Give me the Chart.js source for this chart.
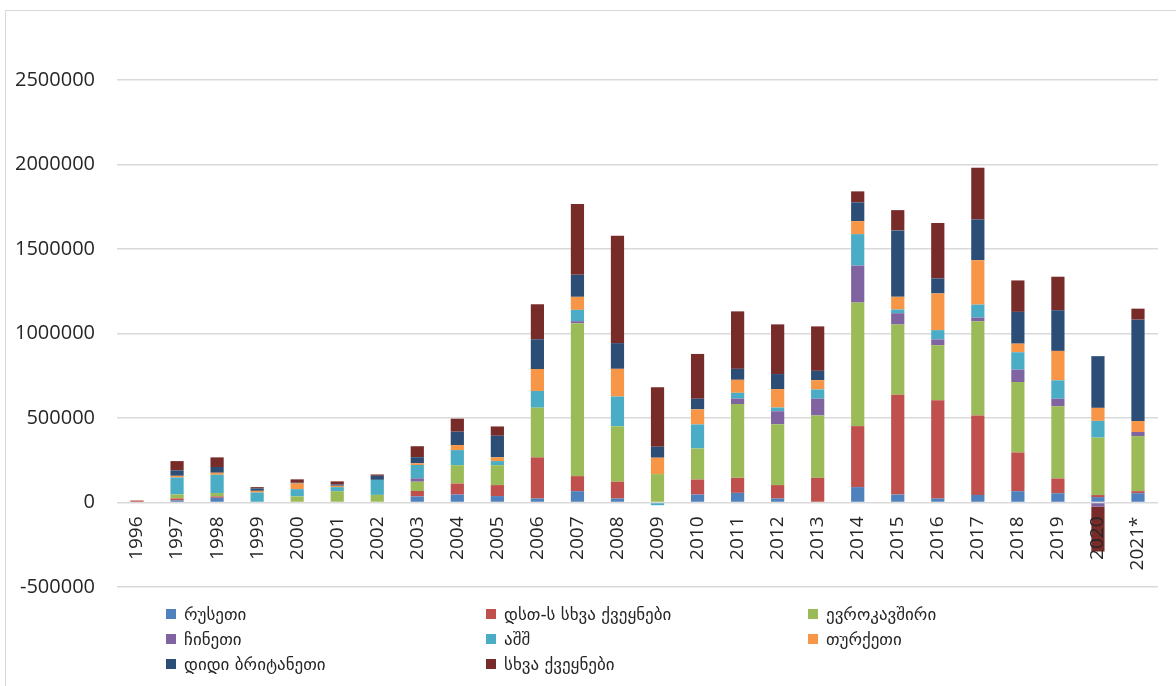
<!DOCTYPE html>
<html lang="ka">
<head>
<meta charset="utf-8">
<title>FDI by country</title>
<script src="https://cdn.jsdelivr.net/npm/chart.js@4.4.1/dist/chart.umd.min.js"></script>
<style>
  html, body { margin: 0; padding: 0; background: #fff; }
  .chart-wrap { position: relative; width: 1176px; height: 686px; overflow: hidden; }
  .frame { position: absolute; left: 5px; top: 10px; width: 1200px; height: 700px; border: 1px solid #d9d9d9; }
  #chart { position: absolute; left: 0; top: 0; }
  .legend {
    position: absolute; left: 166px; top: 601px;
    display: grid; grid-template-columns: 320px 322px auto; grid-auto-rows: 25px;
    font: 17px "DejaVu Sans", sans-serif; color: #262626;
  }
  .legend .item { display: flex; align-items: center; white-space: nowrap; }
  .legend .box { width: 10px; height: 10px; margin-right: 8px; flex: none; }
</style>
</head>
<body>
<div class="chart-wrap">
  <div class="frame"></div>
  <canvas id="chart" width="1176" height="686"></canvas>
  <div class="legend" id="legend"></div>
</div>
<script>
const years = ["1996", "1997", "1998", "1999", "2000", "2001", "2002", "2003", "2004", "2005",
  "2006", "2007", "2008", "2009", "2010", "2011", "2012", "2013", "2014", "2015",
  "2016", "2017", "2018", "2019", "2020", "2021*"];

const russia = [0, 12000, 28000, 0, 0, 0, 0, 36000, 47000, 38000,
  24000, 67000, 24000, 0, 47000, 57000, 24000, 0, 91000, 47000,
  24000, 45000, 67000, 55000, 32000, 55000];
const cisOther = [12000, 12000, 8000, 0, 0, 0, 0, 32000, 65000, 65000,
  243000, 89000, 99000, 0, 89000, 89000, 79000, 146000, 361000, 591000,
  581000, 470000, 229000, 87000, 12000, 12000];
const eu = [0, 24000, 20000, 0, 36000, 67000, 45000, 55000, 109000, 118000,
  294000, 905000, 328000, 168000, 184000, 437000, 360000, 369000, 731000, 415000,
  326000, 557000, 417000, 427000, 340000, 326000];
const china = [0, 0, 0, 0, 0, 0, 0, 20000, 0, 0,
  0, 12000, 0, 0, 0, 32000, 77000, 99000, 219000, 67000,
  34000, 22000, 73000, 45000, -25000, 24000];
const usa = [0, 100000, 108000, 59000, 43000, 24000, 89000, 79000, 89000, 24000,
  99000, 67000, 176000, -16000, 142000, 34000, 22000, 55000, 186000, 22000,
  55000, 77000, 103000, 109000, 99000, 0];
const turkey = [0, 10000, 12000, 10000, 34000, 8000, 0, 10000, 30000, 22000,
  130000, 77000, 164000, 97000, 89000, 77000, 109000, 55000, 77000, 75000,
  217000, 263000, 51000, 174000, 77000, 65000];
const uk = [0, 32000, 34000, 14000, 4000, 8000, 24000, 36000, 79000, 128000,
  176000, 130000, 152000, 65000, 63000, 65000, 89000, 55000, 111000, 393000,
  89000, 241000, 188000, 241000, 306000, 600000];
const others = [0, 55000, 57000, 8000, 20000, 18000, 8000, 65000, 77000, 55000,
  207000, 419000, 636000, 352000, 265000, 340000, 294000, 263000, 65000, 120000,
  328000, 306000, 186000, 198000, -265000, 65000];

const seriesNames = ["რუსეთი", "დსთ-ს სხვა ქვეყნები", "ევროკავშირი", "ჩინეთი",
  "აშშ", "თურქეთი", "დიდი ბრიტანეთი", "სხვა ქვეყნები"];
const seriesValues = [russia, cisOther, eu, china, usa, turkey, uk, others];
const seriesColors = ["#4f81bd", "#c0504d", "#9bbb59", "#8064a2",
  "#4bacc6", "#f79646", "#2c4d75", "#772c2a"];

const yTicks = [-500000, 0, 500000, 1000000, 1500000, 2000000, 2500000];

const datasets = seriesNames.map((name, i) => ({
  label: name,
  data: seriesValues[i],
  backgroundColor: seriesColors[i],
  borderWidth: 0,
  categoryPercentage: 1,
  barPercentage: 0.33,
}));

const chart = new Chart(document.getElementById("chart"), {
  type: "bar",
  data: { labels: years, datasets },
  options: {
    responsive: false,
    animation: false,
    layout: { padding: { top: 80, right: 18, bottom: 99, left: 0 } },
    plugins: {
      legend: { display: false },
      tooltip: { enabled: false },
    },
    scales: {
      x: {
        stacked: true,
        position: { y: 0 },
        grid: { display: false, drawTicks: false },
        border: { display: false },
        ticks: {
          minRotation: 90,
          maxRotation: 90,
          padding: 14,
          color: "#262626",
          font: { family: "Open Sans", size: 19 },
          z: 1,
        },
        afterFit(scale) {
          scale.height = 0;
        },
      },
      y: {
        stacked: true,
        min: yTicks[0],
        max: yTicks[yTicks.length - 1],
        afterBuildTicks(scale) {
          scale.ticks = yTicks.map((v) => ({ value: v }));
        },
        grid: { color: "#d9d9d9", lineWidth: 1.5, drawTicks: false },
        border: { display: false },
        ticks: {
          padding: 22,
          color: "#262626",
          font: { family: "Open Sans", size: 20 },
          callback: (v) => String(v),
        },
        afterFit(scale) {
          scale.width = 117;
        },
      },
    },
  },
});

// legend in three columns, like the original
const legendEl = document.getElementById("legend");
chart.data.datasets.forEach((ds) => {
  const item = document.createElement("div");
  item.className = "item";
  const box = document.createElement("span");
  box.className = "box";
  box.style.background = ds.backgroundColor;
  item.appendChild(box);
  item.appendChild(document.createTextNode(ds.label));
  legendEl.appendChild(item);
});
</script>
</body>
</html>
